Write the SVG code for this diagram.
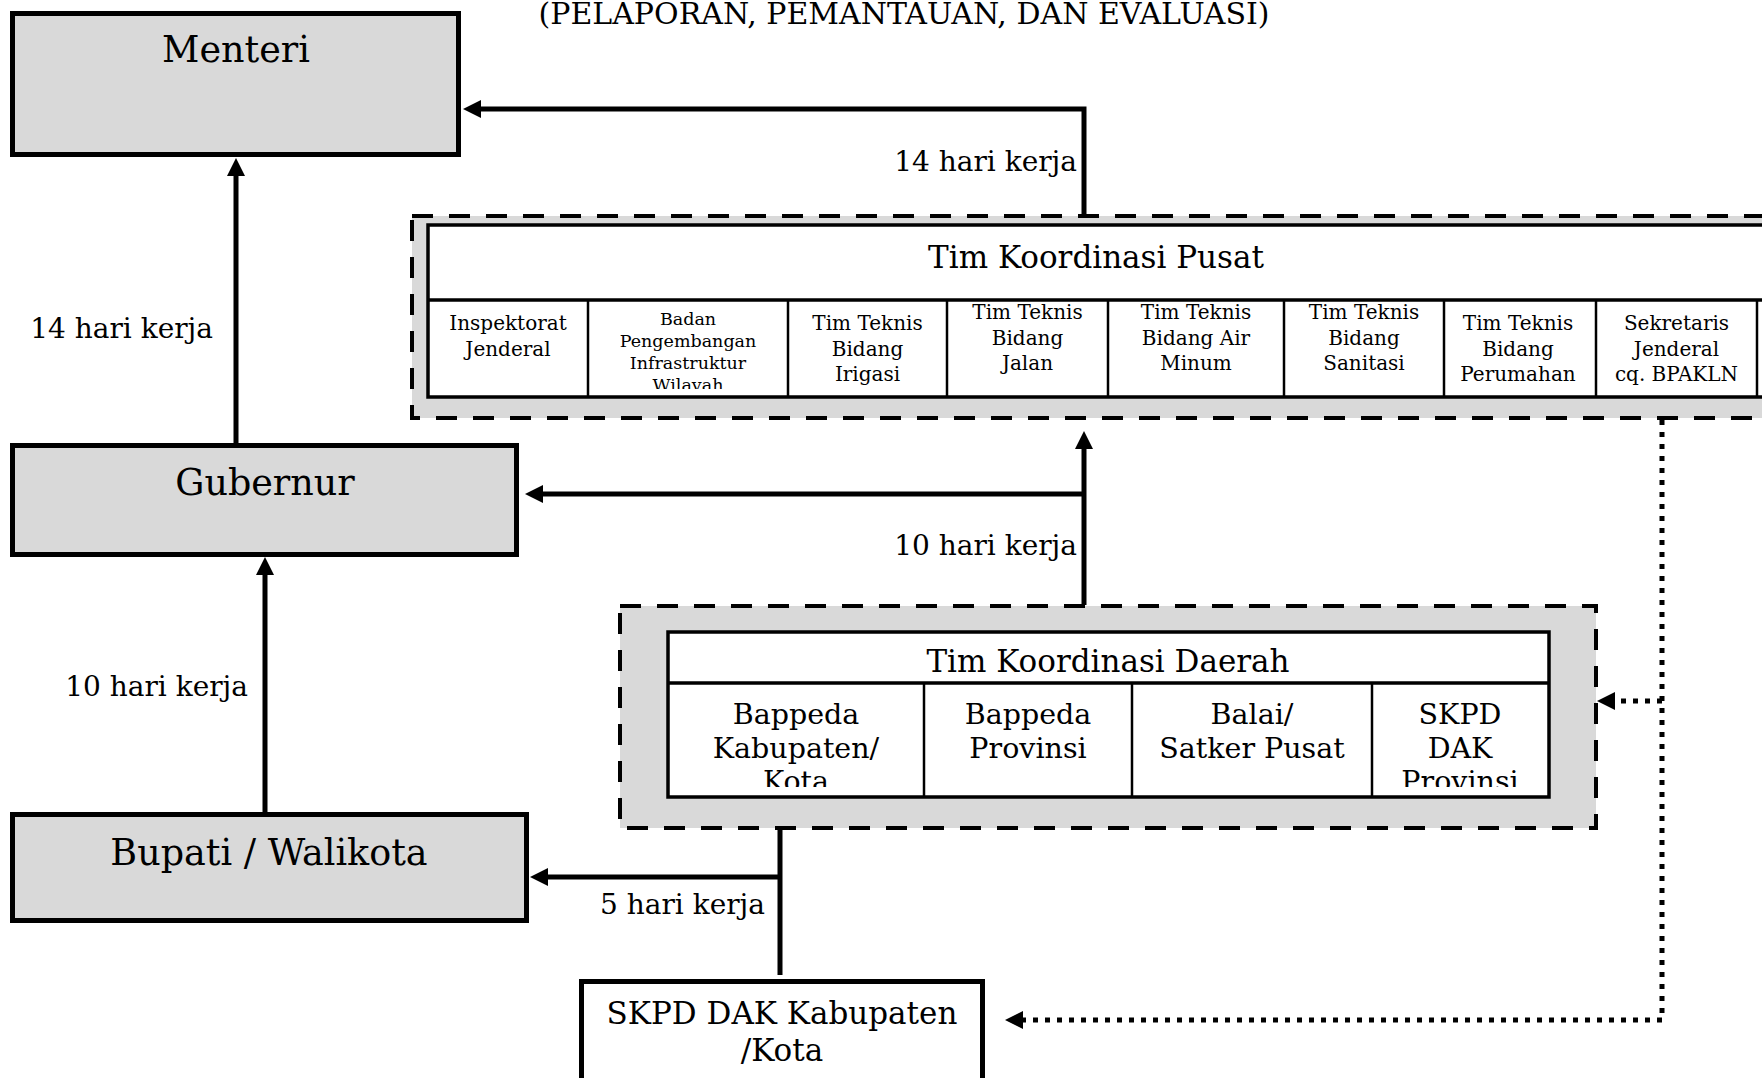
<svg xmlns="http://www.w3.org/2000/svg" width="1762" height="1078" viewBox="0 0 1762 1078">
<style>
text{font-family:"DejaVu Serif","Liberation Serif",serif;fill:#000}
.box{fill:#d9d9d9;stroke:#000;stroke-width:5}
.wbox{fill:#fff;stroke:#000;stroke-width:5}
.grp{fill:#d9d9d9;stroke:#000;stroke-width:4;stroke-dasharray:21 16}
.tbl{fill:#fff;stroke:#000;stroke-width:3.5}
.sep{stroke:#000;stroke-width:3.5}
.col{stroke:#000;stroke-width:2.5}
.big{font-size:36.5px;text-anchor:middle}
.lbl{font-size:28px;text-anchor:end}
.cell{font-size:20px;text-anchor:middle}
.cells{font-size:17.5px;text-anchor:middle}
.hdr{font-size:31px;text-anchor:middle}
.dcell{font-size:28.5px;text-anchor:middle}
.conn{fill:none;stroke:#000;stroke-width:5}
.dot{fill:none;stroke:#000;stroke-width:5;stroke-dasharray:5 7}
</style>
<defs>
<marker id="ah" viewBox="0 0 18 18" refX="6" refY="9" markerWidth="18" markerHeight="18" markerUnits="userSpaceOnUse" orient="auto">
<path d="M0,0 L18,9 L0,18 z" fill="#000"/>
</marker>
<clipPath id="clipP"><rect x="428" y="301" width="1400" height="88"/></clipPath>
<clipPath id="clipD"><rect x="668" y="684" width="882" height="103"/></clipPath>
</defs>
<rect width="1762" height="1078" fill="#fff"/>
<text x="904" y="24" font-size="29" text-anchor="middle" textLength="731" lengthAdjust="spacingAndGlyphs">(PELAPORAN, PEMANTAUAN, DAN EVALUASI)</text>

<g id="menteri">
<rect class="box" x="12.5" y="13.5" width="446" height="141"/>
<text class="big" x="236" y="62" font-size="35.5">Menteri</text>
</g>
<g id="gubernur">
<rect class="box" x="12.5" y="445.5" width="504" height="109"/>
<text class="big" x="265" y="495">Gubernur</text>
</g>
<g id="bupati">
<rect class="box" x="12.5" y="814.5" width="514" height="106"/>
<text class="big" x="269" y="865" font-size="38.5">Bupati / Walikota</text>
</g>
<g id="skpd-kab">
<rect class="wbox" x="581.5" y="981.5" width="401" height="120"/>
<text x="782" y="1024" font-size="31" text-anchor="middle">SKPD DAK Kabupaten</text>
<text x="782" y="1061" font-size="31" text-anchor="middle">/Kota</text>
</g>

<g id="tim-koordinasi-pusat">
<rect class="grp" x="412" y="216" width="1420" height="202"/>
<rect class="tbl" x="428" y="225" width="1400" height="172"/>
<line class="sep" x1="428" y1="300" x2="1828" y2="300"/>
<g>
<line class="col" x1="588" y1="300" x2="588" y2="397"/>
<line class="col" x1="788" y1="300" x2="788" y2="397"/>
<line class="col" x1="947" y1="300" x2="947" y2="397"/>
<line class="col" x1="1108" y1="300" x2="1108" y2="397"/>
<line class="col" x1="1284" y1="300" x2="1284" y2="397"/>
<line class="col" x1="1444" y1="300" x2="1444" y2="397"/>
<line class="col" x1="1596" y1="300" x2="1596" y2="397"/>
<line class="col" x1="1757" y1="300" x2="1757" y2="397"/>
</g>
<text class="hdr" x="1096" y="268">Tim Koordinasi Pusat</text>
<g clip-path="url(#clipP)">
<text class="cell" x="508" y="330">Inspektorat</text>
<text class="cell" x="508" y="355.5">Jenderal</text>
<text class="cells" x="688" y="325">Badan</text>
<text class="cells" x="688" y="347">Pengembangan</text>
<text class="cells" x="688" y="369">Infrastruktur</text>
<text class="cells" x="688" y="391">Wilayah</text>
<text class="cell" x="867.5" y="330">Tim Teknis</text>
<text class="cell" x="867.5" y="355.5">Bidang</text>
<text class="cell" x="867.5" y="381">Irigasi</text>
<text class="cell" x="1027.5" y="319">Tim Teknis</text>
<text class="cell" x="1027.5" y="344.5">Bidang</text>
<text class="cell" x="1027.5" y="370">Jalan</text>
<text class="cell" x="1196" y="319">Tim Teknis</text>
<text class="cell" x="1196" y="344.5">Bidang Air</text>
<text class="cell" x="1196" y="370">Minum</text>
<text class="cell" x="1364" y="319">Tim Teknis</text>
<text class="cell" x="1364" y="344.5">Bidang</text>
<text class="cell" x="1364" y="370">Sanitasi</text>
<text class="cell" x="1518" y="330">Tim Teknis</text>
<text class="cell" x="1518" y="355.5">Bidang</text>
<text class="cell" x="1518" y="381">Perumahan</text>
<text class="cell" x="1676.5" y="330">Sekretaris</text>
<text class="cell" x="1676.5" y="355.5">Jenderal</text>
<text class="cell" x="1676.5" y="381">cq. BPAKLN</text>
</g>
</g>

<g id="tim-koordinasi-daerah">
<rect class="grp" x="620" y="606" width="976" height="222"/>
<rect class="tbl" x="668" y="632" width="881" height="165"/>
<line class="sep" x1="668" y1="683" x2="1549" y2="683"/>
<line class="col" x1="924" y1="683" x2="924" y2="797"/>
<line class="col" x1="1132" y1="683" x2="1132" y2="797"/>
<line class="col" x1="1372" y1="683" x2="1372" y2="797"/>
<text class="hdr" x="1108" y="672">Tim Koordinasi Daerah</text>
<g clip-path="url(#clipD)">
<text class="dcell" x="796" y="724">Bappeda</text>
<text class="dcell" x="796" y="757.5">Kabupaten/</text>
<text class="dcell" x="796" y="791">Kota</text>
<text class="dcell" x="1028" y="724">Bappeda</text>
<text class="dcell" x="1028" y="757.5">Provinsi</text>
<text class="dcell" x="1252" y="724">Balai/</text>
<text class="dcell" x="1252" y="757.5">Satker Pusat</text>
<text class="dcell" x="1460" y="724">SKPD</text>
<text class="dcell" x="1460" y="757.5">DAK</text>
<text class="dcell" x="1460" y="791">Provinsi</text>
</g>
</g>

<g id="connectors">
<path class="conn" d="M236,443 L236,170" marker-end="url(#ah)"/>
<path class="conn" d="M265,812 L265,569" marker-end="url(#ah)"/>
<path class="conn" d="M1084,216 L1084,109 L475,109" marker-end="url(#ah)"/>
<path class="conn" d="M1084,605 L1084,443" marker-end="url(#ah)"/>
<path class="conn" d="M1084,494 L537,494" marker-end="url(#ah)"/>
<path class="conn" d="M780,975 L780,828"/>
<path class="conn" d="M780,877 L542,877" marker-end="url(#ah)"/>
<path class="dot" d="M1662,420 L1662,1020 L1017,1020" marker-end="url(#ah)"/>
<path class="dot" d="M1662,701 L1609,701" marker-end="url(#ah)"/>
<text class="lbl" x="1077" y="171">14 hari kerja</text>
<text class="lbl" x="213" y="338">14 hari kerja</text>
<text class="lbl" x="1077" y="555">10 hari kerja</text>
<text class="lbl" x="248" y="696">10 hari kerja</text>
<text class="lbl" x="765" y="914">5 hari kerja</text>
</g>
</svg>
